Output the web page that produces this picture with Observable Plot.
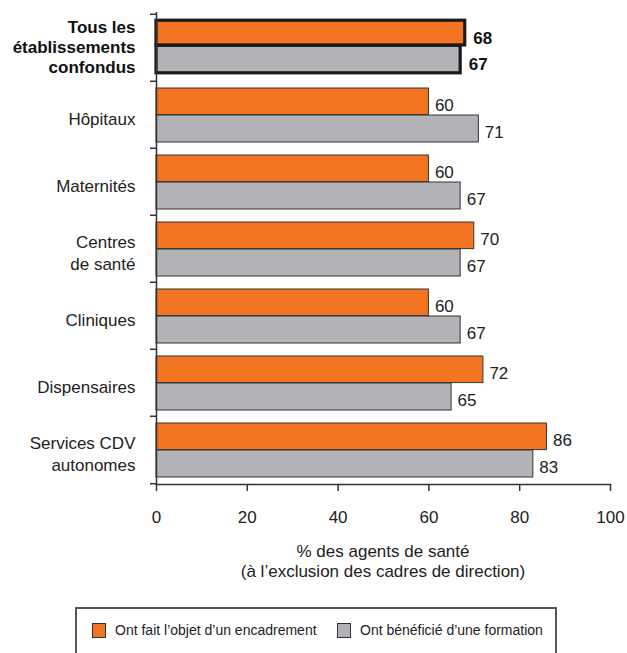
<!DOCTYPE html>
<html>
<head>
<meta charset="utf-8">
<script src="https://cdn.jsdelivr.net/npm/d3@7"></script>
<script src="https://cdn.jsdelivr.net/npm/@observablehq/plot@0.6"></script>
<style>
  html, body { margin: 0; padding: 0; background: #fff; }
  body { font-family: "Liberation Sans", Arial, Helvetica, sans-serif; color: #222; }
  #wrap { position: relative; width: 627px; height: 653px; overflow: hidden; }
  #xtitle { position: absolute; left: 156px; width: 454px; top: 542px; text-align: center; font-size: 17px; line-height: 20px; }
  #legend { position: absolute; left: 75px; top: 607px; width: 482px; height: 70px; border: 2px solid #555; box-sizing: border-box; }
  .sw { position: absolute; width: 14px; height: 15px; border: 1px solid #333; box-sizing: border-box; }
  .lt { position: absolute; font-size: 14px; line-height: 16px; white-space: nowrap; }
</style>
</head>
<body>
<div id="wrap">
  <div id="xtitle"></div>
  <div id="legend"></div>
</div>
<script>
const categories = [
  "Tous les\nétablissements\nconfondus",
  "Hôpitaux",
  "Maternités",
  "Centres\nde santé",
  "Cliniques",
  "Dispensaires",
  "Services CDV\nautonomes"
];
const encadrement = [68, 60, 60, 70, 60, 72, 86];
const formation = [67, 71, 67, 67, 67, 65, 83];
const seriesNames = ["Ont fait l’objet d’un encadrement", "Ont bénéficié d’une formation"];
const xTicks = [0, 20, 40, 60, 80, 100];
const xTitle = ["% des agents de santé", "(à l’exclusion des cadres de direction)"];

const ORANGE = "#F37522";
const GRAY = "#B2B3B6";
const DARK = "#333";

const rows = categories.map((c, i) => ({cat: c, enc: encadrement[i], form: formation[i], total: i === 0}));
const totalRows = rows.filter(d => d.total);
const otherRows = rows.filter(d => !d.total);

const halfBand = (484 - 12) / categories.length / 2;

const chart = Plot.plot({
  width: 627,
  height: 535,
  marginLeft: 156,
  marginRight: 17,
  marginTop: 12,
  marginBottom: 51,
  x: {domain: [0, 100]},
  y: {type: "band", domain: categories, padding: 0, axis: null},
  style: {fontFamily: "'Liberation Sans', Arial, Helvetica, sans-serif", fontSize: "17px", color: "#222", background: "white", overflow: "visible"},
  marks: [
    Plot.barX(otherRows, {y: "cat", x: "enc", fill: ORANGE, stroke: DARK, strokeWidth: 1, insetTop: 7, insetBottom: 33.4}),
    Plot.barX(otherRows, {y: "cat", x: "form", fill: GRAY, stroke: DARK, strokeWidth: 1, insetTop: 34, insetBottom: 6}),
    Plot.barX(totalRows, {y: "cat", x: "form", fill: GRAY, stroke: "#1a1a1a", strokeWidth: 3.2, insetTop: 31.3, insetBottom: 8.2}),
    Plot.barX(totalRows, {y: "cat", x: "enc", fill: ORANGE, stroke: "#1a1a1a", strokeWidth: 3.2, insetTop: 6.2, insetBottom: 36.1}),
    Plot.text(otherRows, {y: "cat", x: "enc", text: d => String(d.enc), textAnchor: "start", dx: 6, dy: -9.2, fill: "#222"}),
    Plot.text(otherRows, {y: "cat", x: "form", text: d => String(d.form), textAnchor: "start", dx: 6, dy: 18, fill: "#222"}),
    Plot.text(totalRows, {y: "cat", x: "enc", text: d => String(d.enc), textAnchor: "start", dx: 8, dy: -9.5, fontWeight: "bold", fill: "#111"}),
    Plot.text(totalRows, {y: "cat", x: "form", text: d => String(d.form), textAnchor: "start", dx: 8, dy: 17, fontWeight: "bold", fill: "#111"}),
    Plot.text(otherRows, {y: "cat", x: () => 0, text: "cat", textAnchor: "end", dx: -21, dy: 3, lineHeight: 1.3, fill: "#222"}),
    Plot.text(totalRows, {y: "cat", x: () => 0, text: "cat", textAnchor: "end", dx: -21, dy: -1.8, lineHeight: 1.18, fontWeight: "bold", fill: "#111"}),
    Plot.axisY({ticks: categories, tickSize: 6, tickFormat: () => "", dy: -halfBand, label: null, stroke: DARK, strokeWidth: 1.5}),
    Plot.axisY({ticks: [categories[categories.length - 1]], tickSize: 6, tickFormat: () => "", dy: halfBand, label: null, stroke: DARK, strokeWidth: 1.5}),
    Plot.ruleX([0], {stroke: DARK, strokeWidth: 1.5}),
    Plot.frame({anchor: "bottom", stroke: DARK, strokeWidth: 1.5}),
    Plot.axisX({ticks: xTicks, tickSize: 7, tickPadding: 19, label: null, stroke: DARK, strokeWidth: 1.5, fill: "#222"})
  ]
});

const wrap = document.getElementById("wrap");
wrap.insertBefore(chart, wrap.firstChild);
chart.style.position = "absolute";
chart.style.left = "0px";
chart.style.top = "0px";

document.getElementById("xtitle").innerHTML = xTitle.map(t => `<div>${t}</div>`).join("");

const legend = document.getElementById("legend");
const legendColors = [ORANGE, GRAY];
const swLeft = [15, 260];
const txLeft = [38, 283];
seriesNames.forEach((name, i) => {
  const sw = document.createElement("div");
  sw.className = "sw";
  sw.style.left = swLeft[i] + "px";
  sw.style.top = "14px";
  sw.style.background = legendColors[i];
  legend.appendChild(sw);
  const tx = document.createElement("div");
  tx.className = "lt";
  tx.style.left = txLeft[i] + "px";
  tx.style.top = "13px";
  tx.textContent = name;
  legend.appendChild(tx);
});
</script>
</body>
</html>
